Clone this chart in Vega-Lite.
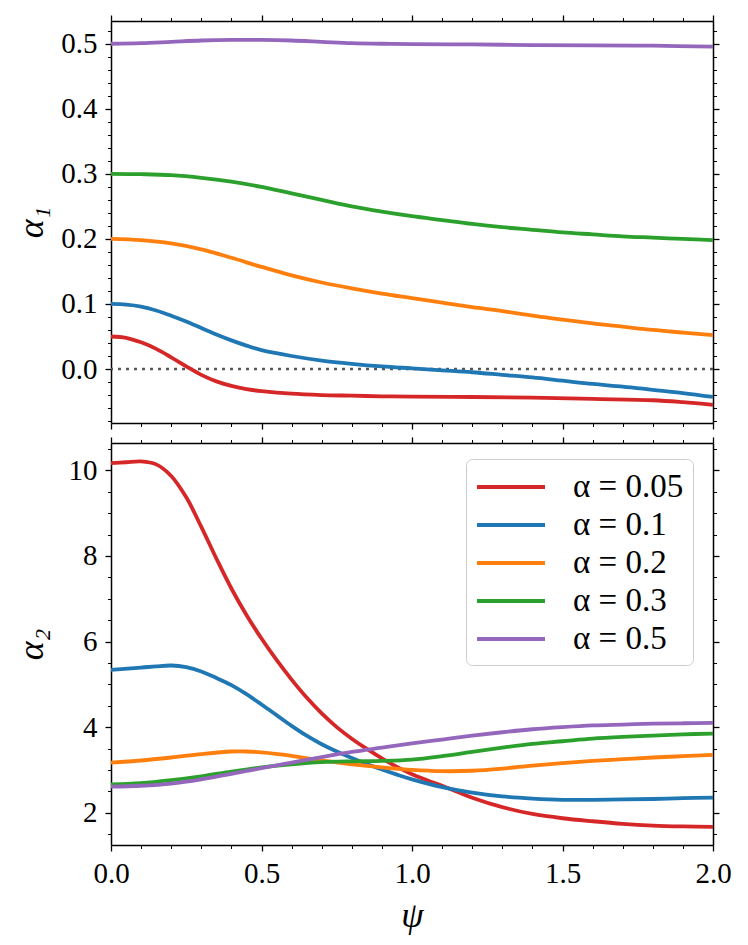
{
  "$schema": "https://vega.github.io/schema/vega-lite/v6.json",
  "background": "white",
  "padding": {"left": 13, "top": 14, "right": 5, "bottom": 5},
  "spacing": 20,
  "bounds": "flush",
  "resolve": {"scale": {"color": "independent"}, "legend": {"color": "independent"}},
  "config": {
    "view": {"stroke": null},
    "font": "Liberation Serif",
    "axis": {
      "grid": false,
      "domainColor": "black",
      "domainWidth": 1.5,
      "tickColor": "black",
      "tickWidth": 1.3,
      "tickSize": 6,
      "labelColor": "black",
      "labelFont": "Liberation Serif",
      "labelFontSize": 29,
      "labelPadding": 8,
      "labelFlush": false,
      "labelOverlap": false,
      "titleColor": "black",
      "titleFont": "Liberation Serif",
      "titleFontSize": 36,
      "titleFontWeight": "normal",
      "titleFontStyle": "italic"
    }
  },
  "datasets": {
    "a1": [
      {"series": "α = 0.05", "psi": 0, "value": 0.050},
      {"series": "α = 0.05", "psi": 0.05, "value": 0.048},
      {"series": "α = 0.05", "psi": 0.1, "value": 0.041},
      {"series": "α = 0.05", "psi": 0.15, "value": 0.031},
      {"series": "α = 0.05", "psi": 0.2, "value": 0.018},
      {"series": "α = 0.05", "psi": 0.25, "value": 0.004},
      {"series": "α = 0.05", "psi": 0.3, "value": -0.009},
      {"series": "α = 0.05", "psi": 0.35, "value": -0.019},
      {"series": "α = 0.05", "psi": 0.4, "value": -0.026},
      {"series": "α = 0.05", "psi": 0.45, "value": -0.031},
      {"series": "α = 0.05", "psi": 0.5, "value": -0.034},
      {"series": "α = 0.05", "psi": 0.6, "value": -0.038},
      {"series": "α = 0.05", "psi": 0.7, "value": -0.040},
      {"series": "α = 0.05", "psi": 0.8, "value": -0.041},
      {"series": "α = 0.05", "psi": 0.9, "value": -0.042},
      {"series": "α = 0.05", "psi": 1.0, "value": -0.0425},
      {"series": "α = 0.05", "psi": 1.2, "value": -0.043},
      {"series": "α = 0.05", "psi": 1.4, "value": -0.044},
      {"series": "α = 0.05", "psi": 1.6, "value": -0.046},
      {"series": "α = 0.05", "psi": 1.8, "value": -0.048},
      {"series": "α = 0.05", "psi": 1.9, "value": -0.051},
      {"series": "α = 0.05", "psi": 2.0, "value": -0.055},
      {"series": "α = 0.1", "psi": 0, "value": 0.100},
      {"series": "α = 0.1", "psi": 0.05, "value": 0.099},
      {"series": "α = 0.1", "psi": 0.1, "value": 0.096},
      {"series": "α = 0.1", "psi": 0.15, "value": 0.090},
      {"series": "α = 0.1", "psi": 0.2, "value": 0.082},
      {"series": "α = 0.1", "psi": 0.25, "value": 0.073},
      {"series": "α = 0.1", "psi": 0.3, "value": 0.063},
      {"series": "α = 0.1", "psi": 0.35, "value": 0.053},
      {"series": "α = 0.1", "psi": 0.4, "value": 0.044},
      {"series": "α = 0.1", "psi": 0.45, "value": 0.036},
      {"series": "α = 0.1", "psi": 0.5, "value": 0.029},
      {"series": "α = 0.1", "psi": 0.6, "value": 0.020},
      {"series": "α = 0.1", "psi": 0.7, "value": 0.013},
      {"series": "α = 0.1", "psi": 0.8, "value": 0.008},
      {"series": "α = 0.1", "psi": 0.9, "value": 0.004},
      {"series": "α = 0.1", "psi": 1.0, "value": 0.001},
      {"series": "α = 0.1", "psi": 1.1, "value": -0.002},
      {"series": "α = 0.1", "psi": 1.2, "value": -0.005},
      {"series": "α = 0.1", "psi": 1.3, "value": -0.009},
      {"series": "α = 0.1", "psi": 1.4, "value": -0.013},
      {"series": "α = 0.1", "psi": 1.5, "value": -0.018},
      {"series": "α = 0.1", "psi": 1.6, "value": -0.023},
      {"series": "α = 0.1", "psi": 1.7, "value": -0.027},
      {"series": "α = 0.1", "psi": 1.8, "value": -0.032},
      {"series": "α = 0.1", "psi": 1.9, "value": -0.037},
      {"series": "α = 0.1", "psi": 2.0, "value": -0.043},
      {"series": "α = 0.2", "psi": 0, "value": 0.200},
      {"series": "α = 0.2", "psi": 0.1, "value": 0.198},
      {"series": "α = 0.2", "psi": 0.2, "value": 0.193},
      {"series": "α = 0.2", "psi": 0.3, "value": 0.184},
      {"series": "α = 0.2", "psi": 0.4, "value": 0.171},
      {"series": "α = 0.2", "psi": 0.5, "value": 0.157},
      {"series": "α = 0.2", "psi": 0.6, "value": 0.144},
      {"series": "α = 0.2", "psi": 0.7, "value": 0.133},
      {"series": "α = 0.2", "psi": 0.8, "value": 0.124},
      {"series": "α = 0.2", "psi": 0.9, "value": 0.116},
      {"series": "α = 0.2", "psi": 1.0, "value": 0.109},
      {"series": "α = 0.2", "psi": 1.1, "value": 0.102},
      {"series": "α = 0.2", "psi": 1.2, "value": 0.095},
      {"series": "α = 0.2", "psi": 1.3, "value": 0.089},
      {"series": "α = 0.2", "psi": 1.4, "value": 0.082},
      {"series": "α = 0.2", "psi": 1.5, "value": 0.076},
      {"series": "α = 0.2", "psi": 1.6, "value": 0.070},
      {"series": "α = 0.2", "psi": 1.7, "value": 0.065},
      {"series": "α = 0.2", "psi": 1.8, "value": 0.060},
      {"series": "α = 0.2", "psi": 1.9, "value": 0.056},
      {"series": "α = 0.2", "psi": 2.0, "value": 0.052},
      {"series": "α = 0.3", "psi": 0, "value": 0.300},
      {"series": "α = 0.3", "psi": 0.1, "value": 0.2995},
      {"series": "α = 0.3", "psi": 0.2, "value": 0.298},
      {"series": "α = 0.3", "psi": 0.3, "value": 0.294},
      {"series": "α = 0.3", "psi": 0.4, "value": 0.288},
      {"series": "α = 0.3", "psi": 0.5, "value": 0.280},
      {"series": "α = 0.3", "psi": 0.6, "value": 0.270},
      {"series": "α = 0.3", "psi": 0.7, "value": 0.260},
      {"series": "α = 0.3", "psi": 0.8, "value": 0.250},
      {"series": "α = 0.3", "psi": 0.9, "value": 0.242},
      {"series": "α = 0.3", "psi": 1.0, "value": 0.235},
      {"series": "α = 0.3", "psi": 1.1, "value": 0.229},
      {"series": "α = 0.3", "psi": 1.2, "value": 0.223},
      {"series": "α = 0.3", "psi": 1.3, "value": 0.218},
      {"series": "α = 0.3", "psi": 1.4, "value": 0.214},
      {"series": "α = 0.3", "psi": 1.5, "value": 0.210},
      {"series": "α = 0.3", "psi": 1.6, "value": 0.207},
      {"series": "α = 0.3", "psi": 1.7, "value": 0.204},
      {"series": "α = 0.3", "psi": 1.8, "value": 0.202},
      {"series": "α = 0.3", "psi": 1.9, "value": 0.200},
      {"series": "α = 0.3", "psi": 2.0, "value": 0.198},
      {"series": "α = 0.5", "psi": 0, "value": 0.500},
      {"series": "α = 0.5", "psi": 0.1, "value": 0.501},
      {"series": "α = 0.5", "psi": 0.2, "value": 0.503},
      {"series": "α = 0.5", "psi": 0.3, "value": 0.505},
      {"series": "α = 0.5", "psi": 0.4, "value": 0.506},
      {"series": "α = 0.5", "psi": 0.5, "value": 0.506},
      {"series": "α = 0.5", "psi": 0.6, "value": 0.505},
      {"series": "α = 0.5", "psi": 0.7, "value": 0.503},
      {"series": "α = 0.5", "psi": 0.8, "value": 0.501},
      {"series": "α = 0.5", "psi": 0.9, "value": 0.500},
      {"series": "α = 0.5", "psi": 1.0, "value": 0.4995},
      {"series": "α = 0.5", "psi": 1.2, "value": 0.499},
      {"series": "α = 0.5", "psi": 1.4, "value": 0.498},
      {"series": "α = 0.5", "psi": 1.6, "value": 0.4975},
      {"series": "α = 0.5", "psi": 1.8, "value": 0.497},
      {"series": "α = 0.5", "psi": 2.0, "value": 0.4955}
    ],
    "a2": [
      {"series": "α = 0.05", "psi": 0, "value": 10.17},
      {"series": "α = 0.05", "psi": 0.05, "value": 10.19},
      {"series": "α = 0.05", "psi": 0.1, "value": 10.21},
      {"series": "α = 0.05", "psi": 0.15, "value": 10.14},
      {"series": "α = 0.05", "psi": 0.2, "value": 9.87},
      {"series": "α = 0.05", "psi": 0.25, "value": 9.37},
      {"series": "α = 0.05", "psi": 0.3, "value": 8.68},
      {"series": "α = 0.05", "psi": 0.35, "value": 7.94},
      {"series": "α = 0.05", "psi": 0.4, "value": 7.24},
      {"series": "α = 0.05", "psi": 0.45, "value": 6.62},
      {"series": "α = 0.05", "psi": 0.5, "value": 6.07},
      {"series": "α = 0.05", "psi": 0.55, "value": 5.57},
      {"series": "α = 0.05", "psi": 0.6, "value": 5.11},
      {"series": "α = 0.05", "psi": 0.65, "value": 4.69},
      {"series": "α = 0.05", "psi": 0.7, "value": 4.32},
      {"series": "α = 0.05", "psi": 0.75, "value": 4.00},
      {"series": "α = 0.05", "psi": 0.8, "value": 3.73},
      {"series": "α = 0.05", "psi": 0.85, "value": 3.49},
      {"series": "α = 0.05", "psi": 0.9, "value": 3.27},
      {"series": "α = 0.05", "psi": 0.95, "value": 3.07},
      {"series": "α = 0.05", "psi": 1.0, "value": 2.90},
      {"series": "α = 0.05", "psi": 1.05, "value": 2.76},
      {"series": "α = 0.05", "psi": 1.1, "value": 2.63},
      {"series": "α = 0.05", "psi": 1.15, "value": 2.49},
      {"series": "α = 0.05", "psi": 1.2, "value": 2.35},
      {"series": "α = 0.05", "psi": 1.3, "value": 2.13},
      {"series": "α = 0.05", "psi": 1.4, "value": 1.97},
      {"series": "α = 0.05", "psi": 1.5, "value": 1.87},
      {"series": "α = 0.05", "psi": 1.6, "value": 1.80},
      {"series": "α = 0.05", "psi": 1.7, "value": 1.74},
      {"series": "α = 0.05", "psi": 1.8, "value": 1.70},
      {"series": "α = 0.05", "psi": 1.9, "value": 1.68},
      {"series": "α = 0.05", "psi": 2.0, "value": 1.67},
      {"series": "α = 0.1", "psi": 0, "value": 5.34},
      {"series": "α = 0.1", "psi": 0.1, "value": 5.39},
      {"series": "α = 0.1", "psi": 0.15, "value": 5.42},
      {"series": "α = 0.1", "psi": 0.2, "value": 5.44},
      {"series": "α = 0.1", "psi": 0.25, "value": 5.40},
      {"series": "α = 0.1", "psi": 0.3, "value": 5.30},
      {"series": "α = 0.1", "psi": 0.35, "value": 5.15},
      {"series": "α = 0.1", "psi": 0.4, "value": 4.98},
      {"series": "α = 0.1", "psi": 0.45, "value": 4.77},
      {"series": "α = 0.1", "psi": 0.5, "value": 4.53},
      {"series": "α = 0.1", "psi": 0.55, "value": 4.28},
      {"series": "α = 0.1", "psi": 0.6, "value": 4.03},
      {"series": "α = 0.1", "psi": 0.65, "value": 3.80},
      {"series": "α = 0.1", "psi": 0.7, "value": 3.60},
      {"series": "α = 0.1", "psi": 0.75, "value": 3.43},
      {"series": "α = 0.1", "psi": 0.8, "value": 3.28},
      {"series": "α = 0.1", "psi": 0.85, "value": 3.14},
      {"series": "α = 0.1", "psi": 0.9, "value": 3.01},
      {"series": "α = 0.1", "psi": 0.95, "value": 2.89},
      {"series": "α = 0.1", "psi": 1.0, "value": 2.78},
      {"series": "α = 0.1", "psi": 1.1, "value": 2.60},
      {"series": "α = 0.1", "psi": 1.2, "value": 2.47},
      {"series": "α = 0.1", "psi": 1.3, "value": 2.38},
      {"series": "α = 0.1", "psi": 1.4, "value": 2.33},
      {"series": "α = 0.1", "psi": 1.5, "value": 2.30},
      {"series": "α = 0.1", "psi": 1.6, "value": 2.30},
      {"series": "α = 0.1", "psi": 1.7, "value": 2.31},
      {"series": "α = 0.1", "psi": 1.8, "value": 2.32},
      {"series": "α = 0.1", "psi": 1.9, "value": 2.34},
      {"series": "α = 0.1", "psi": 2.0, "value": 2.35},
      {"series": "α = 0.2", "psi": 0, "value": 3.17},
      {"series": "α = 0.2", "psi": 0.1, "value": 3.22},
      {"series": "α = 0.2", "psi": 0.2, "value": 3.29},
      {"series": "α = 0.2", "psi": 0.3, "value": 3.37},
      {"series": "α = 0.2", "psi": 0.4, "value": 3.43},
      {"series": "α = 0.2", "psi": 0.45, "value": 3.43},
      {"series": "α = 0.2", "psi": 0.5, "value": 3.41},
      {"series": "α = 0.2", "psi": 0.6, "value": 3.33},
      {"series": "α = 0.2", "psi": 0.7, "value": 3.22},
      {"series": "α = 0.2", "psi": 0.8, "value": 3.13},
      {"series": "α = 0.2", "psi": 0.9, "value": 3.06},
      {"series": "α = 0.2", "psi": 1.0, "value": 3.00},
      {"series": "α = 0.2", "psi": 1.1, "value": 2.97},
      {"series": "α = 0.2", "psi": 1.2, "value": 2.98},
      {"series": "α = 0.2", "psi": 1.3, "value": 3.03},
      {"series": "α = 0.2", "psi": 1.4, "value": 3.10},
      {"series": "α = 0.2", "psi": 1.5, "value": 3.16},
      {"series": "α = 0.2", "psi": 1.6, "value": 3.21},
      {"series": "α = 0.2", "psi": 1.7, "value": 3.25},
      {"series": "α = 0.2", "psi": 1.8, "value": 3.29},
      {"series": "α = 0.2", "psi": 1.9, "value": 3.32},
      {"series": "α = 0.2", "psi": 2.0, "value": 3.35},
      {"series": "α = 0.3", "psi": 0, "value": 2.66},
      {"series": "α = 0.3", "psi": 0.1, "value": 2.69},
      {"series": "α = 0.3", "psi": 0.2, "value": 2.76},
      {"series": "α = 0.3", "psi": 0.3, "value": 2.85},
      {"series": "α = 0.3", "psi": 0.4, "value": 2.96},
      {"series": "α = 0.3", "psi": 0.5, "value": 3.06},
      {"series": "α = 0.3", "psi": 0.6, "value": 3.13},
      {"series": "α = 0.3", "psi": 0.7, "value": 3.18},
      {"series": "α = 0.3", "psi": 0.8, "value": 3.20},
      {"series": "α = 0.3", "psi": 0.9, "value": 3.21},
      {"series": "α = 0.3", "psi": 1.0, "value": 3.24},
      {"series": "α = 0.3", "psi": 1.1, "value": 3.32},
      {"series": "α = 0.3", "psi": 1.2, "value": 3.42},
      {"series": "α = 0.3", "psi": 1.3, "value": 3.52},
      {"series": "α = 0.3", "psi": 1.4, "value": 3.61},
      {"series": "α = 0.3", "psi": 1.5, "value": 3.67},
      {"series": "α = 0.3", "psi": 1.6, "value": 3.73},
      {"series": "α = 0.3", "psi": 1.7, "value": 3.77},
      {"series": "α = 0.3", "psi": 1.8, "value": 3.80},
      {"series": "α = 0.3", "psi": 1.9, "value": 3.83},
      {"series": "α = 0.3", "psi": 2.0, "value": 3.85},
      {"series": "α = 0.5", "psi": 0, "value": 2.61},
      {"series": "α = 0.5", "psi": 0.1, "value": 2.63},
      {"series": "α = 0.5", "psi": 0.2, "value": 2.68},
      {"series": "α = 0.5", "psi": 0.3, "value": 2.78},
      {"series": "α = 0.5", "psi": 0.4, "value": 2.91},
      {"series": "α = 0.5", "psi": 0.5, "value": 3.04},
      {"series": "α = 0.5", "psi": 0.6, "value": 3.17},
      {"series": "α = 0.5", "psi": 0.7, "value": 3.30},
      {"series": "α = 0.5", "psi": 0.8, "value": 3.42},
      {"series": "α = 0.5", "psi": 0.9, "value": 3.52},
      {"series": "α = 0.5", "psi": 1.0, "value": 3.62},
      {"series": "α = 0.5", "psi": 1.1, "value": 3.71},
      {"series": "α = 0.5", "psi": 1.2, "value": 3.80},
      {"series": "α = 0.5", "psi": 1.3, "value": 3.88},
      {"series": "α = 0.5", "psi": 1.4, "value": 3.95},
      {"series": "α = 0.5", "psi": 1.5, "value": 4.00},
      {"series": "α = 0.5", "psi": 1.6, "value": 4.04},
      {"series": "α = 0.5", "psi": 1.7, "value": 4.06},
      {"series": "α = 0.5", "psi": 1.8, "value": 4.08},
      {"series": "α = 0.5", "psi": 1.9, "value": 4.09},
      {"series": "α = 0.5", "psi": 2.0, "value": 4.10}
    ],
    "zero": [{"ref": 0}]
  },
  "vconcat": [
    {
      "width": 602,
      "height": 402,
      "resolve": {"axis": {"x": "independent", "y": "independent"}},
      "layer": [
        {
          "data": {"name": "zero"},
          "mark": {"type": "rule", "color": "#555555", "strokeWidth": 2.4, "strokeDash": [3, 5]},
          "encoding": {
            "y": {"field": "ref", "type": "quantitative", "axis": null}
          }
        },
        {
          "data": {"name": "a1"},
          "mark": {"type": "line", "strokeWidth": 3.8, "interpolate": "catmull-rom"},
          "encoding": {
            "x": {"field": "psi", "type": "quantitative", "scale": {"domain": [0, 2], "nice": false},
              "axis": {"orient": "bottom", "values": [0, 0.5, 1, 1.5, 2], "labels": false, "title": null}},
            "y": {"field": "value", "type": "quantitative", "scale": {"domain": [-0.083, 0.535], "nice": false, "zero": false},
              "axis": {"orient": "left", "values": [0, 0.1, 0.2, 0.3, 0.4, 0.5], "format": ".1f", "title": "α₁", "titlePadding": 10}},
            "color": {"field": "series", "type": "nominal", "legend": null,
              "scale": {"domain": ["α = 0.05", "α = 0.1", "α = 0.2", "α = 0.3", "α = 0.5"],
                "range": ["#d62728", "#1f77b4", "#ff7f0e", "#2ca02c", "#9467bd"]}}
          }
        },
        {
          "data": {"name": "a1"},
          "mark": {"type": "point", "opacity": 0},
          "encoding": {
            "x": {"field": "psi", "type": "quantitative",
              "axis": {"orient": "bottom", "values": [0.1, 0.2, 0.3, 0.4, 0.6, 0.7, 0.8, 0.9, 1.1, 1.2, 1.3, 1.4, 1.6, 1.7, 1.8, 1.9], "labels": false, "domain": false, "tickSize": 3.5, "tickWidth": 1, "title": null}},
            "y": {"field": "value", "type": "quantitative",
              "axis": {"orient": "left", "values": [-0.08, -0.06, -0.04, -0.02, 0.02, 0.04, 0.06, 0.08, 0.12, 0.14, 0.16, 0.18, 0.22, 0.24, 0.26, 0.28, 0.32, 0.34, 0.36, 0.38, 0.42, 0.44, 0.46, 0.48, 0.52], "labels": false, "domain": false, "tickSize": 3.5, "tickWidth": 1, "title": null}}
          }
        },
        {
          "data": {"name": "a1"},
          "mark": {"type": "point", "opacity": 0},
          "encoding": {
            "x": {"field": "psi", "type": "quantitative",
              "axis": {"orient": "top", "values": [0, 0.5, 1, 1.5, 2], "labels": false, "title": null}},
            "y": {"field": "value", "type": "quantitative",
              "axis": {"orient": "right", "values": [0, 0.1, 0.2, 0.3, 0.4, 0.5], "labels": false, "title": null}}
          }
        },
        {
          "data": {"name": "a1"},
          "mark": {"type": "point", "opacity": 0},
          "encoding": {
            "x": {"field": "psi", "type": "quantitative",
              "axis": {"orient": "top", "values": [0.1, 0.2, 0.3, 0.4, 0.6, 0.7, 0.8, 0.9, 1.1, 1.2, 1.3, 1.4, 1.6, 1.7, 1.8, 1.9], "labels": false, "domain": false, "tickSize": 3.5, "tickWidth": 1, "title": null}},
            "y": {"field": "value", "type": "quantitative",
              "axis": {"orient": "right", "values": [-0.08, -0.06, -0.04, -0.02, 0.02, 0.04, 0.06, 0.08, 0.12, 0.14, 0.16, 0.18, 0.22, 0.24, 0.26, 0.28, 0.32, 0.34, 0.36, 0.38, 0.42, 0.44, 0.46, 0.48, 0.52], "labels": false, "domain": false, "tickSize": 3.5, "tickWidth": 1, "title": null}}
          }
        }
      ]
    },
    {
      "width": 602,
      "height": 402,
      "resolve": {"axis": {"x": "independent", "y": "independent"}},
      "layer": [
        {
          "data": {"name": "a2"},
          "mark": {"type": "line", "strokeWidth": 3.8, "interpolate": "catmull-rom"},
          "encoding": {
            "x": {"field": "psi", "type": "quantitative", "scale": {"domain": [0, 2], "nice": false},
              "axis": {"orient": "bottom", "values": [0, 0.5, 1, 1.5, 2], "format": ".1f", "title": "ψ", "titlePadding": 10}},
            "y": {"field": "value", "type": "quantitative", "scale": {"domain": [1.245, 10.64], "nice": false, "zero": false},
              "axis": {"orient": "left", "values": [2, 4, 6, 8, 10], "format": "d", "title": "α₂", "titlePadding": 18}},
            "color": {"field": "series", "type": "nominal",
              "scale": {"domain": ["α = 0.05", "α = 0.1", "α = 0.2", "α = 0.3", "α = 0.5"],
                "range": ["#d62728", "#1f77b4", "#ff7f0e", "#2ca02c", "#9467bd"]},
              "legend": {
                "orient": "none", "legendX": 355, "legendY": 16, "title": null,
                "symbolType": "M-1,0H3", "symbolSize": 1156, "symbolStrokeWidth": 4,
                "labelFont": "Liberation Serif", "labelFontSize": 33, "labelColor": "black",
                "labelOffset": 60, "padding": 9, "rowPadding": 2,
                "fillColor": "rgba(255,255,255,0.8)", "strokeColor": "#cccccc", "cornerRadius": 6
              }}
          }
        },
        {
          "data": {"name": "a2"},
          "mark": {"type": "point", "opacity": 0},
          "encoding": {
            "x": {"field": "psi", "type": "quantitative",
              "axis": {"orient": "bottom", "values": [0.1, 0.2, 0.3, 0.4, 0.6, 0.7, 0.8, 0.9, 1.1, 1.2, 1.3, 1.4, 1.6, 1.7, 1.8, 1.9], "labels": false, "domain": false, "tickSize": 3.5, "tickWidth": 1, "title": null}},
            "y": {"field": "value", "type": "quantitative",
              "axis": {"orient": "left", "values": [1.5, 2.5, 3, 3.5, 4.5, 5, 5.5, 6.5, 7, 7.5, 8.5, 9, 9.5, 10.5], "labels": false, "domain": false, "tickSize": 3.5, "tickWidth": 1, "title": null}}
          }
        },
        {
          "data": {"name": "a2"},
          "mark": {"type": "point", "opacity": 0},
          "encoding": {
            "x": {"field": "psi", "type": "quantitative",
              "axis": {"orient": "top", "values": [0, 0.5, 1, 1.5, 2], "labels": false, "title": null}},
            "y": {"field": "value", "type": "quantitative",
              "axis": {"orient": "right", "values": [2, 4, 6, 8, 10], "labels": false, "title": null}}
          }
        },
        {
          "data": {"name": "a2"},
          "mark": {"type": "point", "opacity": 0},
          "encoding": {
            "x": {"field": "psi", "type": "quantitative",
              "axis": {"orient": "top", "values": [0.1, 0.2, 0.3, 0.4, 0.6, 0.7, 0.8, 0.9, 1.1, 1.2, 1.3, 1.4, 1.6, 1.7, 1.8, 1.9], "labels": false, "domain": false, "tickSize": 3.5, "tickWidth": 1, "title": null}},
            "y": {"field": "value", "type": "quantitative",
              "axis": {"orient": "right", "values": [1.5, 2.5, 3, 3.5, 4.5, 5, 5.5, 6.5, 7, 7.5, 8.5, 9, 9.5, 10.5], "labels": false, "domain": false, "tickSize": 3.5, "tickWidth": 1, "title": null}}
          }
        }
      ]
    }
  ]
}
